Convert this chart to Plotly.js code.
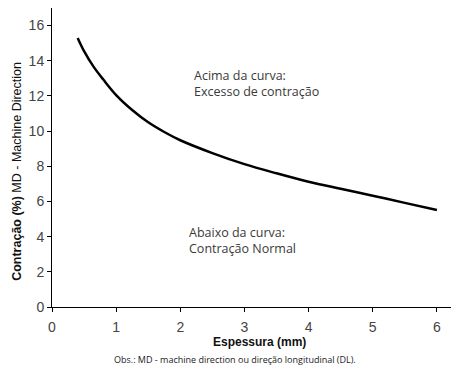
<!DOCTYPE html>
<html>
<head>
<meta charset="utf-8">
<script src="https://cdn.plot.ly/plotly-3.0.1.min.js"></script>
<style>html,body{margin:0;padding:0;background:#fff;}#chart{width:452px;height:369px;}</style>
</head>
<body>
<div id="chart"></div>
<script>
const espessura = [0.4, 0.5, 0.65, 0.8, 1.0, 1.25, 1.5, 1.75, 2.0, 2.5, 3.0, 3.5, 4.0, 4.5, 5.0, 5.5, 6.0];
const contracao = [15.3, 14.55, 13.65, 12.93, 12.05, 11.2, 10.5, 9.95, 9.48, 8.75, 8.12, 7.6, 7.12, 6.72, 6.33, 5.92, 5.52];
const xTicks = [0, 1, 2, 3, 4, 5, 6];
const yTicks = [0, 2, 4, 6, 8, 10, 12, 14, 16];

const trace = {
  x: espessura, y: contracao, type: 'scatter', mode: 'lines',
  line: {color: '#000', width: 2.5, shape: 'spline', smoothing: 1},
  hoverinfo: 'none', showlegend: false
};

const axFont = 'Liberation Sans, Arial, sans-serif';
const noteFont = {family: 'Open Sans, sans-serif', size: 12.5, color: '#3a3a3a'};

const layout = {
  width: 452, height: 369,
  margin: {l: 52, r: 1, t: 8, b: 62},
  paper_bgcolor: '#fff', plot_bgcolor: '#fff',
  font: {family: axFont, size: 12, color: '#444'},
  xaxis: {
    range: [0, 6.22], tickvals: xTicks, ticktext: xTicks.map(String),
    showgrid: false, zeroline: false, showline: true, linecolor: '#000', linewidth: 1,
    ticks: 'outside', ticklen: 4, tickcolor: '#000', ticklabelstandoff: 3,
    tickfont: {family: axFont, size: 14, color: '#444'}
  },
  yaxis: {
    range: [0, 17], tickvals: yTicks, ticktext: yTicks.map(String),
    showgrid: false, zeroline: false, showline: true, linecolor: '#000', linewidth: 1,
    ticks: 'outside', ticklen: 4, tickcolor: '#000',
    tickfont: {family: axFont, size: 14, color: '#444'}
  },
  annotations: [
    {xref: 'paper', yref: 'paper', x: -0.088, y: 0.455, textangle: -90, text: '<b>Contração (%)</b> MD - Machine Direction', showarrow: false, xanchor: 'center', yanchor: 'middle', font: {family: axFont, size: 12.5, color: '#111'}},
    {xref: 'paper', yref: 'paper', x: 0.519, y: -0.117, text: '<b>Espessura (mm)</b>', showarrow: false, xanchor: 'center', yanchor: 'middle', font: {family: axFont, size: 12, color: '#111'}},
    {xref: 'x', yref: 'y', x: 2.184, y: 12.68, text: 'Acima da curva:<br>Excesso de contração', showarrow: false, xanchor: 'left', yanchor: 'middle', align: 'left', font: noteFont},
    {xref: 'x', yref: 'y', x: 2.106, y: 3.76, text: 'Abaixo da curva:<br>Contração Normal', showarrow: false, xanchor: 'left', yanchor: 'middle', align: 'left', font: noteFont},
    {xref: 'paper', yref: 'paper', x: 0.459, y: -0.174, text: 'Obs.: MD - machine direction ou direção longitudinal (DL).', showarrow: false, xanchor: 'center', yanchor: 'middle', font: {family: 'Open Sans, sans-serif', size: 9, color: '#222'}}
  ]
};

Plotly.newPlot('chart', [trace], layout, {staticPlot: true, displayModeBar: false});
</script>
</body>
</html>
